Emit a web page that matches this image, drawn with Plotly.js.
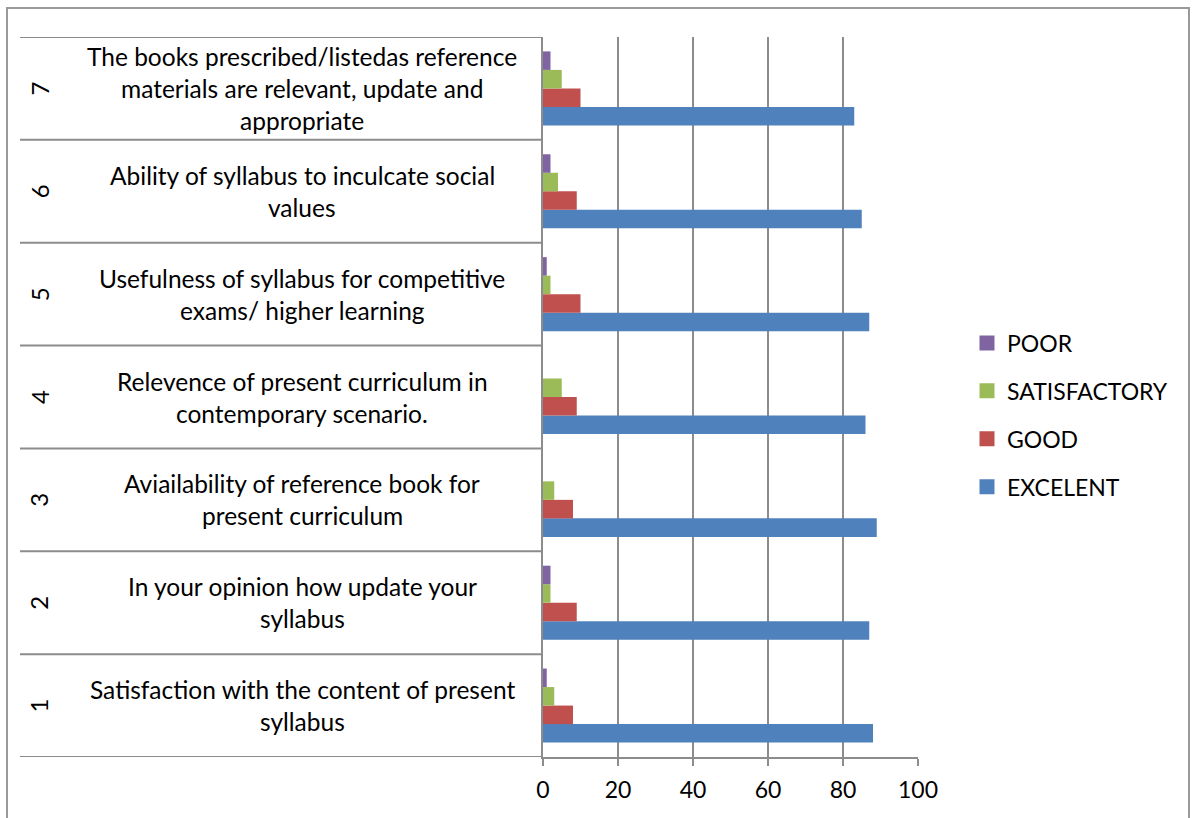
<!DOCTYPE html>
<html>
<head>
<meta charset="utf-8">
<script src="https://cdn.plot.ly/plotly-3.0.1.min.js"></script>
<style>
  html, body { margin: 0; padding: 0; background: #fff; overflow: hidden; }
  #chart { width: 1195px; height: 818px; }
  #frame { position: absolute; left: 6px; top: 7px; width: 1180px; height: 840px;
           border: 2px solid #9a9a9a; pointer-events: none; }
</style>
</head>
<body>
<div id="chart"></div>
<div id="frame"></div>
<script>
// ---- data ----
const categoryNumbers = [1, 2, 3, 4, 5, 6, 7];
const categoryLabels = [
  ["Satisfaction with the content of present", "syllabus"],
  ["In your opinion how update your", "syllabus"],
  ["Aviailability of reference book for", "present curriculum"],
  ["Relevence of present curriculum in", "contemporary scenario."],
  ["Usefulness of syllabus for competitive", "exams/ higher learning"],
  ["Ability of syllabus to inculcate social", "values"],
  ["The books prescribed/listedas reference", "materials are relevant, update and", "appropriate"]
];
const seriesNames = ["EXCELENT", "GOOD", "SATISFACTORY", "POOR"];
const excelent     = [88, 87, 89, 86, 87, 85, 83];
const good         = [8, 9, 8, 9, 10, 9, 10];
const satisfactory = [3, 2, 3, 5, 2, 4, 5];
const poor         = [1, 2, 0, 0, 1, 2, 2];
const xTickValues  = [0, 20, 40, 60, 80, 100];

// ---- styling ----
const seriesValues = [excelent, good, satisfactory, poor];
const seriesColors = ["#4f81bd", "#c0504d", "#9bbb59", "#8064a2"];
const FONT = "Lato, 'Open Sans', sans-serif";
const GRAY = "#8c8c8c";

const barTraces = seriesNames.map((name, i) => ({
  type: "bar",
  orientation: "h",
  name: name,
  legendgroup: name,
  showlegend: false,
  y: categoryNumbers,
  x: seriesValues[i],
  marker: { color: seriesColors[i], line: { width: 0 } },
  hoverinfo: "x+name"
}));
// legend-only entries with square swatches
const legendTraces = seriesNames.map((name, i) => ({
  type: "scatter",
  mode: "markers",
  name: name,
  legendgroup: name,
  legendrank: 1000 - i,
  x: [null], y: [null],
  marker: { color: seriesColors[i], symbol: "square", size: 15 },
  hoverinfo: "skip"
}));
const traces = barTraces.concat(legendTraces);

const W = 1195, H = 818;
const margin = { l: 543, r: 277, t: 37, b: 61 };
const plotW = W - margin.l - margin.r;
const toPaperX = px => (px - margin.l) / plotW;

const annotations = [];
const shapes = [];
const LINE_GAP = 32;
categoryNumbers.forEach((c, i) => {
  const lines = categoryLabels[i];
  lines.forEach((t, k) => {
    annotations.push({
      xref: "paper", yref: "y", x: toPaperX(302), y: c,
      text: t, showarrow: false, xanchor: "center", yanchor: "middle",
      yshift: -(k - (lines.length - 1) / 2) * LINE_GAP,
      font: { family: FONT, size: 24.5, color: "#000" }
    });
  });
  annotations.push({
    xref: "paper", yref: "y", x: toPaperX(39), y: c,
    text: String(c), showarrow: false, textangle: -90,
    xanchor: "center", yanchor: "middle",
    font: { family: FONT, size: 24, color: "#000" }
  });
});
for (let k = 0; k <= categoryNumbers.length; k++) {
  shapes.push({
    type: "line", xref: "paper", yref: "y",
    x0: toPaperX(20), x1: 0, y0: k + 0.5, y1: k + 0.5,
    line: { color: GRAY, width: 2 }
  });
}

const layout = {
  width: W, height: H,
  margin: margin,
  paper_bgcolor: "#fff",
  plot_bgcolor: "#fff",
  barmode: "group",
  bargap: 0.28,
  bargroupgap: 0,
  font: { family: FONT, color: "#000" },
  xaxis: {
    range: [0, 100],
    tickvals: xTickValues,
    ticktext: xTickValues.map(String),
    showgrid: true, gridcolor: GRAY, gridwidth: 2,
    zeroline: false,
    showline: true, linecolor: GRAY, linewidth: 2,
    ticks: "outside", ticklen: 7, tickwidth: 2, tickcolor: GRAY,
    ticklabelstandoff: 4,
    tickfont: { family: FONT, size: 23, color: "#000" },
    fixedrange: true
  },
  yaxis: {
    range: [0.5, 7.5],
    showticklabels: false,
    showgrid: false, zeroline: false,
    showline: true, linecolor: GRAY, linewidth: 2,
    ticks: "",
    fixedrange: true
  },
  showlegend: true,
  legend: {
    x: toPaperX(967), xanchor: "left",
    y: 0.475, yanchor: "middle",
    traceorder: "grouped",
    tracegroupgap: 15,
    font: { family: FONT, size: 23, color: "#000" },
    bgcolor: "rgba(0,0,0,0)"
  },
  annotations: annotations,
  shapes: shapes
};

Plotly.newPlot("chart", traces, layout, { displayModeBar: false, staticPlot: true });
</script>
</body>
</html>
